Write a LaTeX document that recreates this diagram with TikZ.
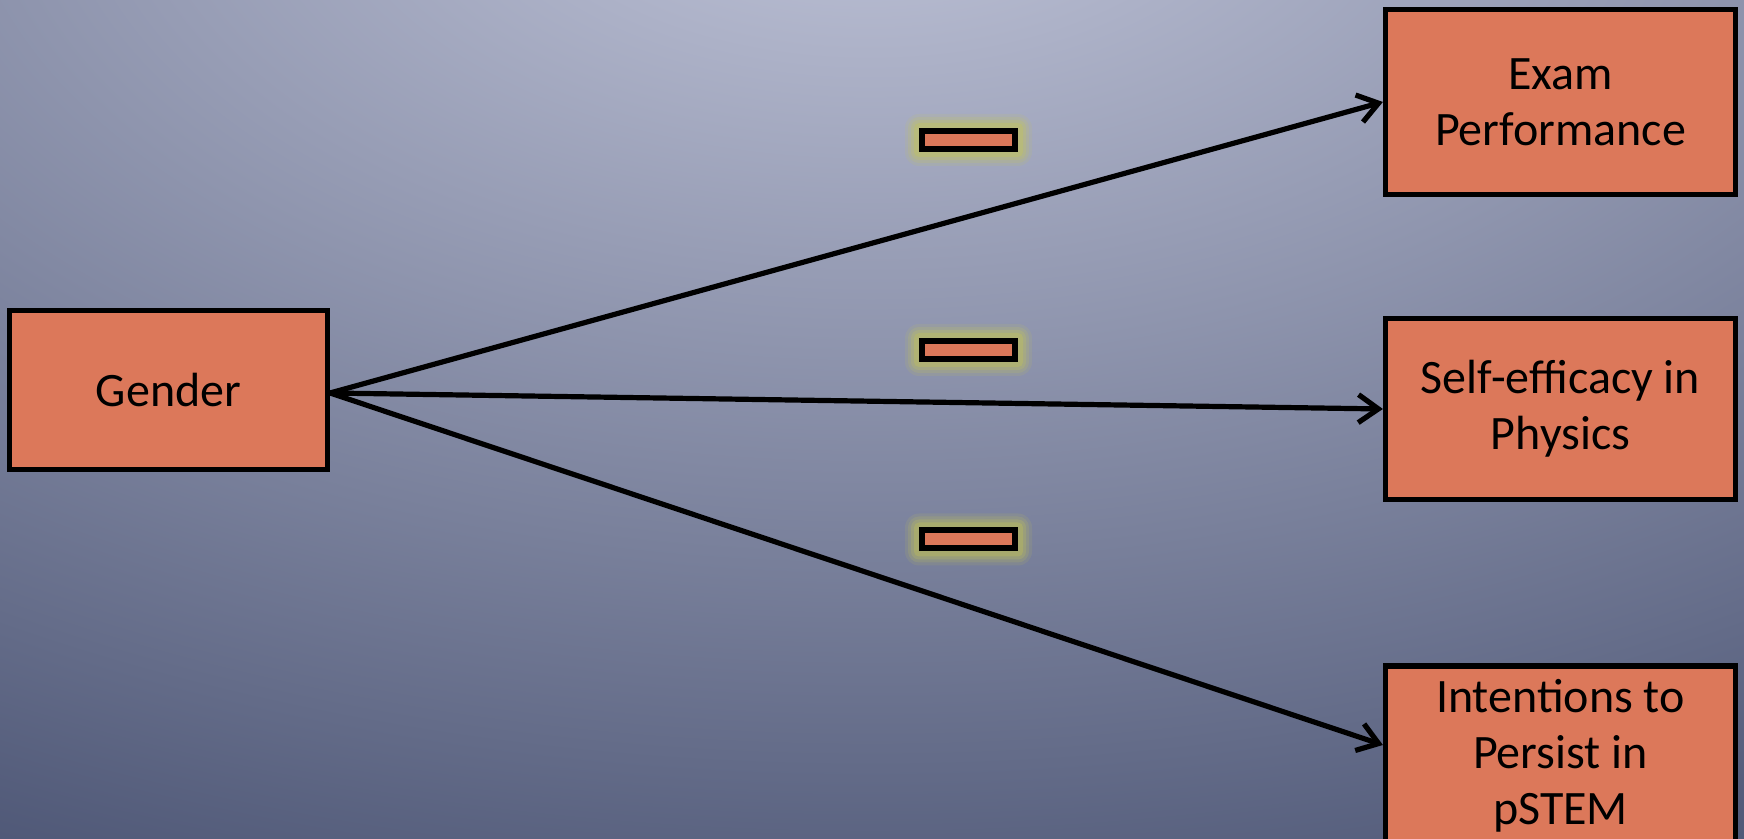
\documentclass[tikz,border=0pt]{standalone}
\usepackage{fontspec}
\setmainfont{Carlito}
\usetikzlibrary{arrows.meta,calc}
\definecolor{boxfill}{RGB}{220,120,90}
\definecolor{bgin}{RGB}{194,198,218}
\definecolor{bgout}{RGB}{78,87,118}
\definecolor{glowcol}{RGB}{200,200,80}
\pgfdeclarelayer{bgshade}
\pgfdeclarelayer{glow}
\pgfsetlayers{bgshade,glow,main}
\tikzset{
  box/.style={draw=black, line width=2.6pt, fill=boxfill, align=center, inner sep=0pt,
    font=\fontsize{24}{28}\selectfont, text=black},
  minusbox/.style={draw=black, line width=3pt, fill=boxfill, minimum width=46.5pt,
    minimum height=9pt, inner sep=0pt},
  link/.style={line width=2.6pt, -{Straight Barb[length=10pt,width=14pt]}},
  glowring/.style={fill=glowcol, opacity=#1}
}
\newcommand{\glowbox}[1]{%
  \begin{pgfonlayer}{glow}
    \foreach \s/\o in {7/0.12,5.5/0.16,4/0.22,2.5/0.3}{
      \fill[glowring=\o, rounded corners=\s pt]
        ($(#1.south west)+(-\s pt,-\s pt)$) rectangle ($(#1.north east)+(\s pt,\s pt)$);
    }
  \end{pgfonlayer}}
\begin{document}
\begin{tikzpicture}[x=1pt,y=1pt]
\useasboundingbox (0,0) rectangle (872,419.5);
\begin{pgfonlayer}{bgshade}
  \begin{scope}
    \clip (0,0) rectangle (872,419.5);
    \shade[inner color=bgin, outer color=bgout] (435,494.5) ellipse [x radius=1000pt, y radius=560pt];
  \end{scope}
\end{pgfonlayer}

\node[box, minimum width=159pt, minimum height=79.5pt] (gender) at (84.25,224.5) {Gender};
\node[box, minimum width=175pt, minimum height=92.5pt] (exam) at (780.25,368.5) {Exam\\Performance};
\node[box, minimum width=175pt, minimum height=90.5pt] (self) at (780.25,215) {Self-efficacy in\\Physics};
\node[box, minimum width=175pt, minimum height=90pt] (intent) at (780.25,41.5) {Intentions to\\Persist in\\pSTEM};

\node[minusbox] (m1) at (484.25,349.5) {};
\node[minusbox] (m2) at (484.25,244.5) {};
\node[minusbox] (m3) at (484.25,149.75) {};
\glowbox{m1}
\glowbox{m2}
\glowbox{m3}

\coordinate (src) at ($(gender.east)+(0,-1.5)$);
\coordinate (intin) at ($(intent.west)+(0,5.5)$);
\draw[link] (src) -- (exam.west);
\draw[link] (src) -- (self.west);
\draw[link] (src) -- (intin);
\end{tikzpicture}
\end{document}
